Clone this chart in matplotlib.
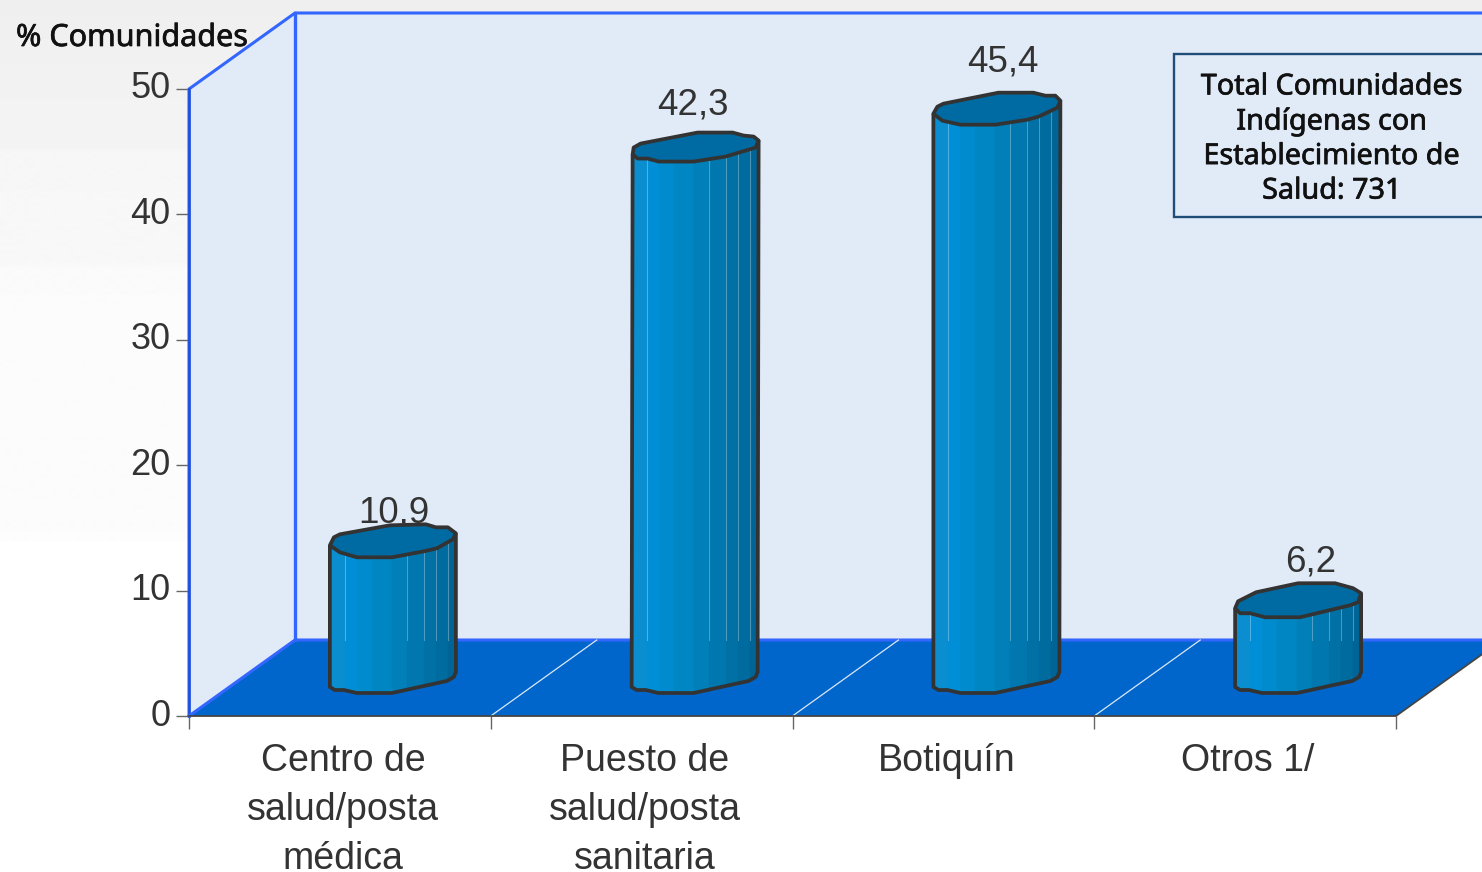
import numpy as np
import matplotlib
matplotlib.use('Agg')
import matplotlib.pyplot as plt
import matplotlib.patheffects as pe
from matplotlib.patches import Polygon, Rectangle
from matplotlib.transforms import ScaledTranslation

# Data
categories = ['Centro de\nsalud/posta\nmédica', 'Puesto de\nsalud/posta\nsanitaria', 'Botiquín', 'Otros 1/']
values = [10.9, 42.3, 45.4, 6.2]
value_labels = ['10,9', '42,3', '45,4', '6,2']
y_ticks = [0, 10, 20, 30, 40, 50]
box_lines = 'Total Comunidades\nIndígenas con\nEstablecimiento de\nSalud: 731'

W, H = 1482, 872
DPI = 100

# px per data unit, and the 3D depth offset
PX_X = (1396 - 189) / 4
PX_Y = (716 - 89) / 50
DEPTH_X = 106 / PX_X
DEPTH_Y = 76 / PX_Y

# bar outlines in px around each bar centre (y down)
tops = [
    [(-63, 4), (-59, -4), (-53, -7), (-3, -16), (33, -17), (43, -14), (55, -14), (63, -8), (60, -2), (44, 7), (31, 10), (-1, 16), (-36, 16), (-53, 11)],
    [(-62, 7), (-61, 0), (-54, -4), (3, -15), (38, -15), (49, -12), (59, -11), (64, -7), (61, 0), (31, 9), (-1, 14), (-36, 14), (-47, 11), (-57, 11)],
    [(-63, 5), (-59, -2), (-53, -5), (2, -16), (37, -16), (49, -13), (59, -13), (64, -8), (61, -1), (42, 8), (31, 11), (-1, 16), (-36, 16), (-54, 12)],
    [(-63, 8), (-60, 1), (-42, -8), (0, -17), (37, -17), (55, -12), (63, -7), (60, 2), (52, 5), (2, 17), (-33, 17), (-48, 13), (-58, 13)],
]
bottom = [(-63, 9), (-58, 12), (-49, 12), (-36, 15), (-1, 15), (31, 8), (54, 3), (61, -1), (63, -6)]
label_offsets = [(1, 28), (-2, 43), (7, 47), (13, 38)]

# shading strips across a bar: left edge in px, colour
strips = [(-64, '#0a8ecf'), (-48, '#008fd6'), (-36, '#008bce'), (-21, '#0086c2'), (-1, '#007fb9'),
          (14, '#0078af'), (31, '#0070a5'), (43, '#006b9e'), (55, '#006596')]
highlights = [-48, 14, 31, 43, 55]

plt.rcParams['font.family'] = ['Liberation Sans', 'DejaVu Sans']
fig = plt.figure(figsize=(W / DPI, H / DPI), dpi=DPI, facecolor='white')

# soft grey background bands
bg = fig.add_axes([0, 0, 1, 1], zorder=0)
rows = np.arange(H)
shade = np.interp(rows, [0, 60, 148, 152, 262, 270, 530, 540, 541, 872],
                  [.935, .945, .955, .967, .972, .984, .988, .99, 1, 1])
bg.imshow(shade[:, None], cmap='gray', vmin=0, vmax=1, aspect='auto', extent=[0, 1, 0, 1], origin='upper')
bg.axis('off')

ax = fig.add_axes([189 / W, 1 - 716 / H, (1396 - 189) / W, (716 - 89) / H], zorder=1)
ax.set_xlim(0, 4)
ax.set_ylim(0, 50)
ax.patch.set_visible(False)
for s in ax.spines.values():
    s.set_visible(False)

wall = '#e1ebf7'
edge = '#3366ff'
# left wall, back wall, floor
ax.add_patch(Polygon([(0, 0), (0, 50), (DEPTH_X, 50 + DEPTH_Y), (DEPTH_X, DEPTH_Y)], fc=wall, ec='none', clip_on=False, zorder=1))
ax.add_patch(Polygon([(DEPTH_X, DEPTH_Y), (DEPTH_X, 50 + DEPTH_Y), (4 + DEPTH_X, 50 + DEPTH_Y), (4 + DEPTH_X, DEPTH_Y)], fc=wall, ec='none', clip_on=False, zorder=1))
ax.add_patch(Polygon([(0, 0), (4, 0), (4 + DEPTH_X, DEPTH_Y), (DEPTH_X, DEPTH_Y)], fc='#0066cc', ec='none', clip_on=False, zorder=2))

ax.plot([0, 0, DEPTH_X, 4 + DEPTH_X], [0, 50, 50 + DEPTH_Y, 50 + DEPTH_Y], color=edge, lw=2.2, clip_on=False, zorder=3)
ax.plot([0, 0], [0, 50], color='#1f4fd8', lw=1.8, clip_on=False, zorder=3)
ax.plot([DEPTH_X, DEPTH_X], [DEPTH_Y, 50 + DEPTH_Y], color=edge, lw=2.4, clip_on=False, zorder=3)
ax.plot([0, DEPTH_X, 4 + DEPTH_X], [0, DEPTH_Y, DEPTH_Y], color=edge, lw=2.2, clip_on=False, zorder=3)
ax.plot([0, 4, 4 + DEPTH_X], [0, 0, DEPTH_Y], color='#444444', lw=1.3, clip_on=False, zorder=4)
for k in range(1, 4):
    ax.plot([k, k + DEPTH_X], [0, DEPTH_Y], color='#dce8f7', lw=0.9, clip_on=False, zorder=3)

# axis ticks and labels
ax.set_yticks(y_ticks)
ax.tick_params(axis='y', length=9.5, width=1, color='#666666', labelsize=26, labelcolor='#333333', pad=4)
ax.set_xticks(range(5))
ax.set_xticklabels([])
ax.tick_params(axis='x', which='major', length=9.5, width=1, color='#666666')
ax.set_xticks([i + 0.5 for i in range(4)], categories, minor=True)
ax.tick_params(axis='x', which='minor', length=0, labelsize=27, labelcolor='#333333', pad=19.5)
for t in ax.get_yticklabels():
    t.set_transform(t.get_transform() + ScaledTranslation(0, 4 / DPI, fig.dpi_scale_trans))
for t in ax.get_xticklabels(minor=True):
    t.set_linespacing(1.46)
    t.set_transform(t.get_transform() + ScaledTranslation(3 / DPI, 0, fig.dpi_scale_trans))

# bars stand in the middle of the floor depth
for i, v in enumerate(values):
    cx = i + 0.5 + DEPTH_X / 2
    base = DEPTH_Y / 2
    top_y = base + v

    def to_data(pts, y0):
        return [(cx + px / PX_X, y0 - py / PX_Y) for px, py in pts]

    top_pts = to_data(tops[i], top_y)
    bot_pts = to_data(bottom, base)
    right_top = int(np.argmax([p[0] for p in tops[i]]))
    body = Polygon([top_pts[0]] + bot_pts + top_pts[right_top:] + [top_pts[0]], fc='none', ec='none', zorder=5)
    ax.add_patch(body)

    for j, (left, col) in enumerate(strips):
        right = strips[j + 1][0] if j + 1 < len(strips) else 66
        r = Rectangle((cx + left / PX_X, base - 20 / PX_Y), (right - left) / PX_X, v + 40 / PX_Y,
                      fc=col, ec=col, lw=0.3, zorder=5)
        ax.add_patch(r)
        r.set_clip_path(body)
    for left in highlights:
        ln, = ax.plot([cx + left / PX_X] * 2, [DEPTH_Y, top_y], color='white', lw=0.8, alpha=0.3, zorder=5.5)
        ln.set_clip_path(body)

    outline = Polygon([top_pts[0]] + bot_pts + [top_pts[right_top]], closed=False, fc='none', ec='#333333', lw=2.7,
                      joinstyle='round', clip_on=False, zorder=6)
    ax.add_patch(outline)
    ax.add_patch(Polygon(top_pts, fc='#006ba3', ec='#333333', lw=2.7, joinstyle='round', clip_on=False, zorder=7))

    off_x, off_y = label_offsets[i]
    ax.annotate(value_labels[i], (cx, top_y), xytext=(off_x * 72 / DPI, off_y * 72 / DPI), textcoords='offset points',
                ha='center', va='center', fontsize=26.5, color='#333333', annotation_clip=False, zorder=4.5)

# note box and axis title, with a thin stroke for the heavier look of the original
heavier = [pe.withStroke(linewidth=0.5, foreground='#111111')]
fig.add_artist(Rectangle((1174 / W, 1 - 217 / H), 400 / W, 163 / H, transform=fig.transFigure,
                         fc=wall, ec='#1f4e79', lw=1.7, zorder=3))
fig.text(1332 / W, 1 - 139 / H, box_lines, ha='center', va='center', fontsize=20.7, color='#111111',
         family='Noto Sans', linespacing=1.25, zorder=4, path_effects=heavier)
fig.text(16 / W, 1 - 38 / H, '% Comunidades', ha='left', va='center', fontsize=22, color='#111111',
         family='Noto Sans', zorder=4, path_effects=heavier)

fig.savefig('out.png', dpi=DPI)
